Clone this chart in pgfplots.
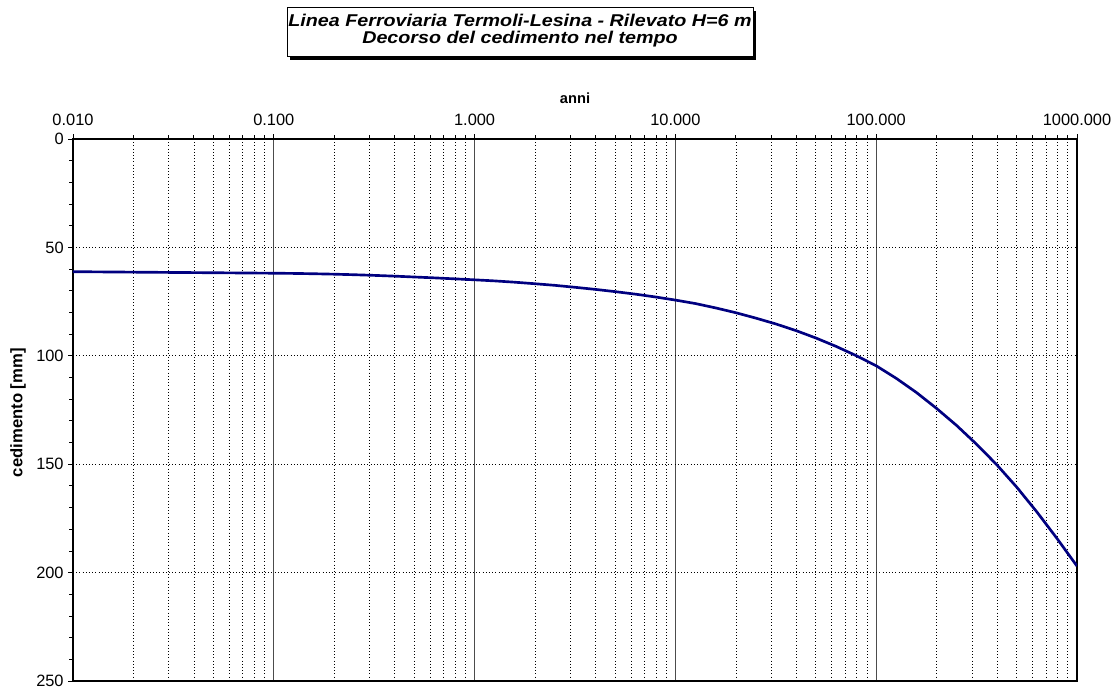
\documentclass[border=0pt]{standalone}
\usepackage{fontspec}
\setmainfont{Liberation Sans}
\setsansfont{Liberation Sans}
\usepackage{graphicx}
\usepackage{pgfplots}
\pgfplotsset{compat=1.18}
\definecolor{navyline}{RGB}{0,0,128}
\begin{document}
\fontsize{12.3pt}{14pt}\selectfont
\begin{tikzpicture}
\path[use as bounding box] (0,0) rectangle (837pt,-516pt);
% title box with shadow
\fill[black] (217.5pt,-8.25pt) rectangle (567pt,-45pt);
\draw[black,line width=0.75pt,fill=white] (215.25pt,-6pt) rectangle (564.75pt,-42.75pt);
\node[anchor=base,inner sep=0pt,font=\fontsize{12.8pt}{14pt}\selectfont\bfseries\itshape] at (390pt,-20.25pt) {\scalebox{1.155}[1]{Linea Ferroviaria Termoli-Lesina - Rilevato H=6 m}};
\node[anchor=base,inner sep=0pt,font=\fontsize{12.8pt}{14pt}\selectfont\bfseries\itshape] at (390pt,-32.4pt) {\scalebox{1.155}[1]{Decorso del cedimento nel tempo}};
\begin{axis}[
  at={(54.75pt,-104.25pt)}, anchor=north west,
  scale only axis, width=753pt, height=406.5pt,
  xmode=log, xmin=0.01, xmax=1000,
  ymin=0, ymax=250, y dir=reverse,
  xtick={0.01,0.1,1,10,100,1000},
  xticklabels={0.010,0.100,1.000,10.000,100.000,1000.000},
  minor xtick={0.02,0.03,0.04,0.05,0.06,0.07,0.08,0.09,
               0.2,0.3,0.4,0.5,0.6,0.7,0.8,0.9,
               2,3,4,5,6,7,8,9,
               20,30,40,50,60,70,80,90,
               200,300,400,500,600,700,800,900},
  ytick={0,50,100,150,200,250},
  minor ytick={10,20,30,40,60,70,80,90,110,120,130,140,160,170,180,190,210,220,230,240},
  xticklabel pos=right, xtick pos=right, ytick pos=left,
  tick align=outside,
  major tick length=3.75pt, minor tick length=3pt,
  every tick/.style={black,line width=0.6pt},
  /pgf/number format/assume math mode=true,
  ticklabel style={font=\fontsize{12.3pt}{14pt}\selectfont},
  xticklabel style={yshift=2pt},
  yticklabel style={xshift=1pt},
  xmajorgrids, xminorgrids, ymajorgrids,
  major x grid style={black!70,solid,line width=0.6pt},
  minor x grid style={black,dotted,line width=0.5pt},
  major y grid style={black,dotted,line width=0.5pt},
  axis line style={black,line width=2.2pt},
  xlabel={anni}, ylabel={cedimento [mm]},
  every axis x label/.style={at={(axis description cs:0.5,1)}, yshift=30.5pt, anchor=center, font=\fontsize{11pt}{13pt}\selectfont\bfseries},
  every axis y label/.style={at={(axis description cs:0,0.5)}, xshift=-41.25pt, yshift=-2pt, rotate=90, anchor=center, font=\fontsize{12.5pt}{14pt}\selectfont\bfseries},
  clip=true,
]
\addplot[navyline, line width=2pt, line join=round] coordinates {
(0.01,61.2) (0.0316,61.55) (0.1,61.9) (0.126,62.0) (0.158,62.15) (0.2,62.35)
(0.251,62.6) (0.316,62.9) (0.398,63.25) (0.501,63.65) (0.631,64.05) (0.794,64.5)
(1,64.95) (1.259,65.45) (1.585,66.05) (1.995,66.75) (2.512,67.5) (3.162,68.4)
(3.981,69.35) (5.012,70.4) (6.310,71.55) (7.943,72.85) (10,74.3) (12.59,75.9)
(15.85,77.9) (19.95,80.1) (25.12,82.6) (31.62,85.3) (39.81,88.35) (50.12,91.8)
(63.10,95.65) (79.43,99.9) (100,104.6) (125.9,110.4) (158.5,116.9) (199.5,124.2)
(251.2,132.1) (316.2,140.8) (398.1,150.2) (501.2,160.6) (631.0,172.0) (794.3,184.2)
(1000,197.0)
};
\end{axis}
\end{tikzpicture}
\end{document}
